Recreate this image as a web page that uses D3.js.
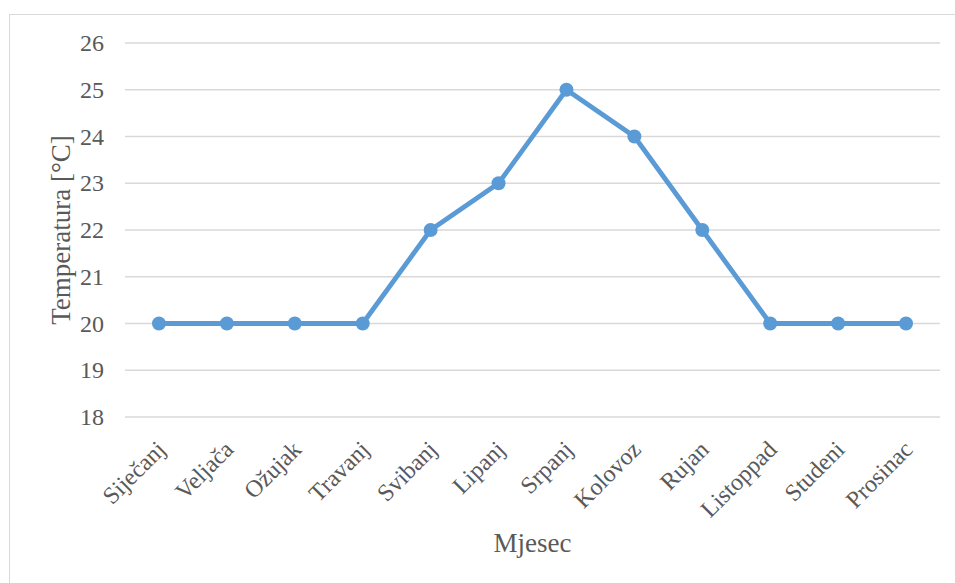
<!DOCTYPE html>
<html>
<head>
<meta charset="utf-8">
<script src="https://cdn.jsdelivr.net/npm/d3@7"></script>
<style>
  body { margin: 0; background: #fff; }
</style>
</head>
<body>
<svg id="chart" width="955" height="583"></svg>
<script>
var months = ["Siječanj", "Veljača", "Ožujak", "Travanj", "Svibanj", "Lipanj",
              "Srpanj", "Kolovoz", "Rujan", "Listoppad", "Studeni", "Prosinac"];
var temps = [20, 20, 20, 20, 22, 23, 25, 24, 22, 20, 20, 20];
var yTicks = [18, 19, 20, 21, 22, 23, 24, 25, 26];

var font = "'Liberation Serif', 'Times New Roman', 'DejaVu Serif', serif";

var svg = d3.select("#chart"),
    width = +svg.attr("width"),
    height = +svg.attr("height"),
    margin = {top: 43, right: 15, bottom: 166, left: 125};

svg.attr("font-family", font).attr("fill", "#595959");

// outer chart frame (only top and left edges fall inside the picture)
svg.append("rect")
    .attr("x", 9.5).attr("y", 14.5)
    .attr("width", width).attr("height", height)
    .attr("fill", "none").attr("stroke", "#d9d9d9");

var x = d3.scaleBand()
    .domain(months)
    .range([margin.left, width - margin.right]);

var y = d3.scaleLinear()
    .domain([18, 26])
    .range([height - margin.bottom, margin.top]);

// gridlines
svg.append("g")
  .selectAll("line")
  .data(yTicks)
  .enter().append("line")
    .attr("x1", margin.left).attr("x2", width - margin.right)
    .attr("y1", function(d) { return y(d); })
    .attr("y2", function(d) { return y(d); })
    .attr("stroke", "#d9d9d9").attr("stroke-width", 1.5);

// y tick labels
svg.append("g")
  .selectAll("text")
  .data(yTicks)
  .enter().append("text")
    .attr("x", 104)
    .attr("y", function(d) { return y(d); })
    .attr("dy", "0.34em")
    .attr("text-anchor", "end")
    .attr("font-size", 24)
    .text(function(d) { return d; });

// x tick labels, rotated
svg.append("g")
  .selectAll("text")
  .data(months)
  .enter().append("text")
    .attr("transform", function(d) {
      return "translate(" + (x(d) + x.bandwidth() / 2 + 2) + "," + 445 + ") rotate(-45)";
    })
    .attr("text-anchor", "end")
    .attr("dy", "0.35em")
    .attr("font-size", 24)
    .text(function(d) { return d; });

// axis titles
svg.append("text")
    .attr("transform", "translate(70," + ((y(18) + y(26)) / 2) + ") rotate(-90)")
    .attr("text-anchor", "middle")
    .attr("font-size", 27)
    .text("Temperatura [°C]");

svg.append("text")
    .attr("x", (x.range()[0] + x.range()[1]) / 2)
    .attr("y", 552)
    .attr("text-anchor", "middle")
    .attr("font-size", 27)
    .text("Mjesec");

var line = d3.line()
    .x(function(d, i) { return x(months[i]) + x.bandwidth() / 2; })
    .y(function(d) { return y(d); });

svg.append("path")
    .datum(temps)
    .attr("d", line)
    .attr("fill", "none")
    .attr("stroke", "#5b9bd5")
    .attr("stroke-width", 4.8)
    .attr("stroke-linejoin", "round");

svg.append("g")
  .selectAll("circle")
  .data(temps)
  .enter().append("circle")
    .attr("cx", function(d, i) { return x(months[i]) + x.bandwidth() / 2; })
    .attr("cy", function(d) { return y(d); })
    .attr("r", 7)
    .attr("fill", "#5b9bd5");
</script>
</body>
</html>
